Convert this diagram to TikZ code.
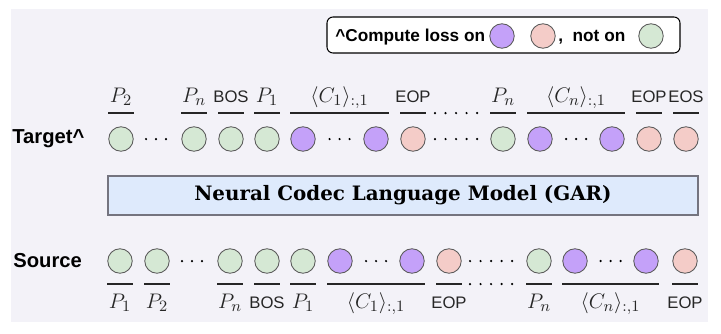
\documentclass[tikz,border=0pt]{standalone}
\usepackage{fontspec}
\newfontfamily\arialfont{Liberation Sans}
\newfontfamily\modelfont{DejaVu Serif}

\definecolor{panelgray}{HTML}{F3F2F8}
\definecolor{tokpurple}{HTML}{C4A1F9}
\definecolor{tokpink}{HTML}{F4CCC8}
\definecolor{tokgreen}{HTML}{D5E8D4}
\definecolor{modelblue}{HTML}{DEEAFC}
\definecolor{modelgray}{HTML}{74747F}

\tikzset{
  tok/.style={circle, draw=black!65, line width=0.5pt, minimum size=0.49cm, inner sep=0pt},
  gtok/.style={tok, fill=tokgreen},
  ptok/.style={tok, fill=tokpurple},
  rtok/.style={tok, fill=tokpink},
  bar/.style={line width=0.8pt, black!85},
  mlab/.style={font=\fontsize{12.5}{14}\selectfont, inner sep=0pt},
  slab/.style={font=\arialfont\fontsize{9.5}{11}\selectfont, inner sep=0pt},
  rowname/.style={font=\arialfont\bfseries\fontsize{11.5}{13}\selectfont, anchor=west, inner sep=0pt},
  legtext/.style={font=\arialfont\bfseries\fontsize{9.8}{12}\selectfont, anchor=base west, inner sep=0pt}
}

\begin{document}
\begin{tikzpicture}[scale=1]

\useasboundingbox (0,0) rectangle (14.42,6.66);

% Fond
\fill[panelgray] (0.22,0.22) rectangle (14.16,6.48);

% Legende
\node[draw, fill=white, rounded corners=1.2mm, line width=0.6pt,
  minimum width=7.06cm, minimum height=0.72cm] (legend) at (10.07,5.96) {};
\node[legtext] (legloss) at (6.70,5.82) {\textasciicircum Compute loss on};
\node[ptok] (legp) at (10.04,5.94) {};
\node[rtok] (legr) at (10.86,5.94) {};
\node[legtext] (legnot) at (11.16,5.82) {,~~not on};
\node[gtok] (legg) at (13.02,5.94) {};

% Modele
\node[draw=modelgray, fill=modelblue, line width=0.6pt,
  minimum width=11.8cm, minimum height=0.78cm,
  font=\modelfont\bfseries\fontsize{11.3}{13}\selectfont] (model)
  at (8.06,2.75) {Neural Codec Language Model (GAR)};

% Noms des lignes
\node[rowname] (target) at (0.24,3.88) {Target\textasciicircum};
\node[rowname] (source) at (0.26,1.44) {Source};

% Jetons cible
\foreach \x/\s/\n in {2.42/gtok/t1, 3.88/gtok/t2, 4.62/gtok/t3, 5.34/gtok/t4,
  6.06/ptok/t5, 7.52/ptok/t6, 8.26/rtok/t7, 10.06/gtok/t8,
  10.80/ptok/t9, 12.24/ptok/t10, 12.98/rtok/t11, 13.72/rtok/t12}
  \node[\s] (\n) at (\x,3.88) {};

% Jetons source
\foreach \x/\s/\n in {2.40/gtok/s1, 3.14/gtok/s2, 4.60/gtok/s3, 5.34/gtok/s4,
  6.06/gtok/s5, 6.80/ptok/s6, 8.24/ptok/s7, 8.98/rtok/s8,
  10.78/gtok/s9, 11.50/ptok/s10, 12.92/ptok/s11, 13.70/rtok/s12}
  \node[\s] (\n) at (\x,1.44) {};

% Points
\foreach \x/\y in {3.12/3.88, 6.79/3.88, 11.52/3.88, 3.84/1.44, 7.52/1.44, 12.21/1.44}
  \foreach \i in {-1,0,1}
    \fill (\x+\i*0.2,\y) circle (0.025);
\foreach \x/\y in {9.12/3.88, 9.12/4.40, 9.82/1.44, 9.82/0.98}
  \foreach \i in {-2,...,2}
    \fill (\x+\i*0.21,\y) circle (0.025);

% Etiquettes cible
\draw[bar] ([yshift=5.2mm]t1.west) -- node[mlab, anchor=base, yshift=2.2mm] (lt1) {$P_2$} ([yshift=5.2mm]t1.east);
\draw[bar] ([yshift=5.2mm]t2.west) -- node[mlab, anchor=base, yshift=2.2mm] (lt2) {$P_n$} ([yshift=5.2mm]t2.east);
\draw[bar] ([yshift=5.2mm]t3.west) -- node[slab, anchor=base, yshift=2.2mm] (lt3) {BOS} ([yshift=5.2mm]t3.east);
\draw[bar] ([yshift=5.2mm]t4.west) -- node[mlab, anchor=base, yshift=2.2mm] (lt4) {$P_1$} ([yshift=5.2mm]t4.east);
\draw[bar] ([yshift=5.2mm]t5.west) -- node[mlab, anchor=base, yshift=2.2mm] (lt5) {$\langle C_1\rangle_{:,1}$} ([yshift=5.2mm]t6.east);
\draw[bar] ([yshift=5.2mm]t7.west) -- node[slab, anchor=base, yshift=2.2mm] (lt7) {EOP} ([yshift=5.2mm]t7.east);
\draw[bar] ([yshift=5.2mm]t8.west) -- node[mlab, anchor=base, yshift=2.2mm] (lt8) {$P_n$} ([yshift=5.2mm]t8.east);
\draw[bar] ([yshift=5.2mm]t9.west) -- node[mlab, anchor=base, yshift=2.2mm] (lt9) {$\langle C_n\rangle_{:,1}$} ([yshift=5.2mm]t10.east);
\draw[bar] ([yshift=5.2mm]t11.west) -- node[slab, anchor=base, yshift=2.2mm] (lt11) {EOP} ([yshift=5.2mm]t11.east);
\draw[bar] ([yshift=5.2mm]t12.west) -- node[slab, anchor=base, yshift=2.2mm] (lt12) {EOS} ([yshift=5.2mm]t12.east);

% Etiquettes source
\draw[bar] ([yshift=-4.6mm]s1.west) -- node[mlab, anchor=base, yshift=-4.9mm] (ls1) {$P_1$} ([yshift=-4.6mm]s1.east);
\draw[bar] ([yshift=-4.6mm]s2.west) -- node[mlab, anchor=base, yshift=-4.9mm] (ls2) {$P_2$} ([yshift=-4.6mm]s2.east);
\draw[bar] ([yshift=-4.6mm]s3.west) -- node[mlab, anchor=base, yshift=-4.9mm] (ls3) {$P_n$} ([yshift=-4.6mm]s3.east);
\draw[bar] ([yshift=-4.6mm]s4.west) -- node[slab, anchor=base, yshift=-4.9mm] (ls4) {BOS} ([yshift=-4.6mm]s4.east);
\draw[bar] ([yshift=-4.6mm]s5.west) -- node[mlab, anchor=base, yshift=-4.9mm] (ls5) {$P_1$} ([yshift=-4.6mm]s5.east);
\draw[bar] ([yshift=-4.6mm]s6.west) -- node[mlab, anchor=base, yshift=-4.9mm] (ls6) {$\langle C_1\rangle_{:,1}$} ([yshift=-4.6mm]s7.east);
\draw[bar] ([yshift=-4.6mm]s8.west) -- node[slab, anchor=base, yshift=-4.9mm] (ls8) {EOP} ([yshift=-4.6mm]s8.east);
\draw[bar] ([yshift=-4.6mm]s9.west) -- node[mlab, anchor=base, yshift=-4.9mm] (ls9) {$P_n$} ([yshift=-4.6mm]s9.east);
\draw[bar] ([yshift=-4.6mm]s10.west) -- node[mlab, anchor=base, yshift=-4.9mm] (ls10) {$\langle C_n\rangle_{:,1}$} ([yshift=-4.6mm]s11.east);
\draw[bar] ([yshift=-4.6mm]s12.west) -- node[slab, anchor=base, yshift=-4.9mm] (ls12) {EOP} ([yshift=-4.6mm]s12.east);

\end{tikzpicture}
\end{document}
